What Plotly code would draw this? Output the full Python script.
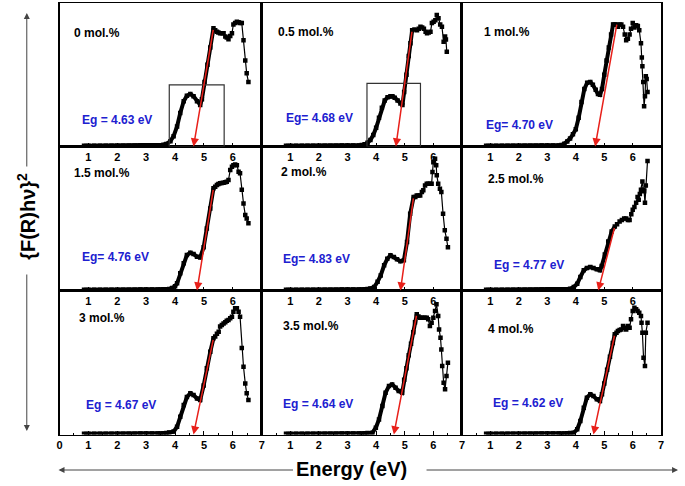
import plotly.graph_objects as go

W, H = 685, 486

# ---------------- data ----------------
PANEL_NAMES = ["0 mol.%", "0.5 mol.%", "1 mol.%",
               "1.5 mol.%", "2 mol.%", "2.5 mol.%",
               "3 mol.%", "3.5 mol.%", "4 mol.%"]
EG_LABELS = ["Eg = 4.63 eV", "Eg= 4.68 eV", "Eg= 4.70 eV",
             "Eg= 4.76 eV", "Eg= 4.83 eV", "Eg = 4.77 eV",
             "Eg = 4.67 eV", "Eg = 4.64 eV", "Eg = 4.62 eV"]

# flat low-energy part shared by all samples
E_BASE = [0.85, 1.0, 1.2, 1.4, 1.6, 1.8, 2.0, 2.2, 2.4, 2.6, 2.8, 3.0, 3.2, 3.4]
A_BASE = [0.006, 0.006, 0.006, 0.006, 0.006, 0.006, 0.006, 0.006, 0.006,
          0.006, 0.007, 0.007, 0.007, 0.007]

P1_E = [3.5, 3.6, 3.7, 3.84, 3.95, 4.07, 4.18, 4.3, 4.41, 4.53, 4.64, 4.76, 4.87,
        4.93, 5.02, 5.12, 5.22, 5.33,
        5.39, 5.45, 5.5, 5.56, 5.62, 5.68, 5.74, 5.79, 5.85, 5.91, 5.97, 6.02, 6.08,
        6.14, 6.2, 6.25, 6.31, 6.37, 6.43, 6.48, 6.54]
P1_A = [0.009, 0.012, 0.018, 0.037, 0.072, 0.14, 0.234, 0.315, 0.354, 0.366, 0.35, 0.315, 0.29,
        0.33, 0.45, 0.57, 0.69, 0.824,
        0.81, 0.80, 0.795, 0.79, 0.79, 0.79, 0.766, 0.76, 0.748, 0.77, 0.79, 0.85, 0.86,
        0.87, 0.865, 0.86, 0.86, 0.74, 0.60, 0.51, 0.45]

P2_E = [3.5, 3.6, 3.7, 3.8, 3.9, 4.0, 4.1, 4.2, 4.3, 4.4, 4.5,
        4.57, 4.65, 4.75, 4.85, 4.92,
        4.98, 5.06, 5.14, 5.2, 5.26,
        5.34, 5.43, 5.49, 5.55, 5.61, 5.67, 5.73, 5.78, 5.84, 5.9, 5.95, 6.01, 6.07,
        6.12, 6.18, 6.24, 6.3, 6.36, 6.41, 6.44, 6.47]
P2_A = [0.01, 0.015, 0.026, 0.045, 0.08, 0.13, 0.2, 0.27, 0.32, 0.343, 0.35,
        0.35, 0.34, 0.32, 0.30, 0.29,
        0.38, 0.5, 0.63, 0.72, 0.81,
        0.815, 0.81, 0.82, 0.835, 0.83, 0.82, 0.80, 0.79, 0.795, 0.80, 0.86, 0.87, 0.88,
        0.917, 0.894, 0.85, 0.835, 0.73, 0.766, 0.745, 0.66]

P3_E = [3.5, 3.6, 3.7, 3.8, 3.9, 4.0, 4.1, 4.2, 4.3, 4.4, 4.51,
        4.6, 4.7, 4.78, 4.85,
        4.92, 5.0, 5.08, 5.16, 5.24, 5.31,
        5.37, 5.43, 5.48, 5.54, 5.6, 5.66, 5.72, 5.77, 5.83, 5.89, 5.94, 6.0, 6.06,
        6.12, 6.18, 6.23, 6.29, 6.32, 6.34, 6.37, 6.4, 6.43, 6.46, 6.49, 6.52]
P3_A = [0.01, 0.02, 0.035, 0.055, 0.085, 0.12, 0.2, 0.31, 0.4, 0.445, 0.45,
        0.43, 0.395, 0.365, 0.36,
        0.4, 0.5, 0.6, 0.69, 0.78, 0.85,
        0.85, 0.85, 0.835, 0.85, 0.85, 0.835, 0.78, 0.74, 0.75, 0.78, 0.82, 0.86, 0.83,
        0.845, 0.84, 0.81, 0.72, 0.62, 0.56, 0.45, 0.28, 0.35, 0.49, 0.47, 0.38]

P4_E = [3.5, 3.6, 3.7, 3.8, 3.9, 4.0,
        4.07, 4.18, 4.3, 4.41, 4.53, 4.64, 4.76, 4.87,
        4.99, 5.1, 5.22, 5.33,
        5.39, 5.45, 5.5, 5.56, 5.62, 5.68, 5.74, 5.79, 5.85, 5.91, 5.97, 6.02, 6.08,
        6.14, 6.2, 6.25, 6.31, 6.37, 6.43, 6.48, 6.54]
P4_A = [0.007, 0.008, 0.009, 0.011, 0.018, 0.03,
        0.05, 0.12, 0.19, 0.246, 0.262, 0.253, 0.235, 0.23,
        0.3, 0.43, 0.57, 0.71,
        0.72, 0.733, 0.74, 0.744, 0.746, 0.749, 0.752, 0.756, 0.767, 0.837, 0.86, 0.87, 0.875,
        0.87, 0.825, 0.814, 0.70, 0.605, 0.524, 0.50, 0.467]

P5_E = [3.5, 3.6, 3.7, 3.8,
        3.93, 4.05, 4.16, 4.28, 4.39, 4.5, 4.62, 4.73, 4.85, 4.97,
        5.08, 5.19, 5.31,
        5.37, 5.42, 5.48, 5.54, 5.6, 5.65, 5.71, 5.77, 5.82, 5.88, 5.94, 5.97, 6.0,
        6.06, 6.1, 6.12, 6.17, 6.23, 6.28, 6.34, 6.4, 6.46, 6.51]
P5_A = [0.007, 0.008, 0.01, 0.014,
        0.024, 0.06, 0.105, 0.175, 0.22, 0.244, 0.233, 0.217, 0.203, 0.21,
        0.337, 0.533, 0.65,
        0.65, 0.66, 0.66, 0.66, 0.684, 0.696, 0.73, 0.742, 0.742, 0.742, 0.742, 0.823, 0.89,
        0.915, 0.87, 0.80, 0.742, 0.707, 0.684, 0.533, 0.418, 0.36, 0.30]

P6_E = [3.5, 3.6, 3.7, 3.8,
        3.93, 4.05, 4.16, 4.28, 4.39, 4.51, 4.62, 4.74, 4.85,
        4.91, 5.02, 5.14, 5.26, 5.37,
        5.45, 5.54, 5.62, 5.7, 5.77, 5.83, 5.89, 5.95, 6.0, 6.06, 6.12, 6.17, 6.21,
        6.25, 6.29, 6.34, 6.37, 6.4, 6.43, 6.46, 6.52]
P6_A = [0.006, 0.007, 0.009, 0.012,
        0.024, 0.047, 0.094, 0.14, 0.156, 0.163, 0.156, 0.147, 0.14,
        0.17, 0.25, 0.34, 0.41, 0.444,
        0.46, 0.48, 0.49, 0.5, 0.5, 0.49, 0.49, 0.53, 0.56, 0.58, 0.61, 0.65, 0.63,
        0.67, 0.70, 0.757, 0.70, 0.69, 0.61, 0.73, 0.90]

P7_E = [3.5, 3.6, 3.7, 3.8,
        3.95, 4.07, 4.18, 4.3, 4.41, 4.53, 4.64, 4.76, 4.87,
        4.99, 5.1, 5.22, 5.33,
        5.39, 5.45, 5.51, 5.56, 5.62, 5.68, 5.74, 5.79, 5.85, 5.91, 5.97, 6.02, 6.08,
        6.14, 6.2, 6.25, 6.31, 6.37, 6.43, 6.48, 6.54]
P7_A = [0.007, 0.008, 0.01, 0.014,
        0.02, 0.054, 0.124, 0.205, 0.26, 0.286, 0.274, 0.25, 0.24,
        0.34, 0.46, 0.575, 0.668,
        0.68, 0.70, 0.714, 0.75, 0.76, 0.77, 0.78, 0.79, 0.795, 0.807, 0.818, 0.853, 0.876,
        0.876, 0.853, 0.818, 0.6, 0.47, 0.355, 0.286, 0.24]

P8_E = [3.5, 3.6, 3.7,
        3.87, 3.99, 4.1, 4.22, 4.33, 4.45, 4.56, 4.68, 4.79, 4.91,
        4.98, 5.06, 5.14, 5.22, 5.3, 5.36, 5.42,
        5.48, 5.54, 5.6, 5.65, 5.71, 5.77, 5.82, 5.88, 5.94, 6.0, 6.06, 6.11, 6.17,
        6.2, 6.25, 6.28, 6.31, 6.36, 6.41, 6.46, 6.51]
P8_A = [0.007, 0.008, 0.01,
        0.013, 0.047, 0.105, 0.198, 0.29, 0.337, 0.348, 0.325, 0.302, 0.29,
        0.38, 0.46, 0.55, 0.63, 0.71, 0.78, 0.835,
        0.82, 0.81, 0.81, 0.81, 0.81, 0.81, 0.80, 0.753, 0.776, 0.81, 0.858, 0.904, 0.823,
        0.73, 0.672, 0.59, 0.476, 0.36, 0.314, 0.406, 0.499]

P9_E = [3.5, 3.6, 3.7, 3.8,
        3.93, 4.05, 4.16, 4.28, 4.39, 4.51, 4.62, 4.74, 4.85,
        4.92, 5.0, 5.1, 5.2, 5.3, 5.37,
        5.43, 5.48, 5.54, 5.6, 5.66, 5.71, 5.77, 5.83, 5.89, 5.94, 6.0, 6.06, 6.12,
        6.17, 6.23, 6.29, 6.31, 6.34, 6.38, 6.43, 6.46, 6.52]
P9_A = [0.006, 0.007, 0.008, 0.01,
        0.013, 0.036, 0.094, 0.186, 0.256, 0.279, 0.267, 0.244, 0.233,
        0.28, 0.355, 0.45, 0.54, 0.635, 0.696,
        0.707, 0.719, 0.725, 0.73, 0.753, 0.742, 0.73, 0.753, 0.742, 0.80, 0.858, 0.88, 0.87,
        0.858, 0.846, 0.823, 0.776, 0.707, 0.533, 0.476, 0.707, 0.776]

PANEL_E = [P1_E, P2_E, P3_E, P4_E, P5_E, P6_E, P7_E, P8_E, P9_E]
PANEL_A = [P1_A, P2_A, P3_A, P4_A, P5_A, P6_A, P7_A, P8_A, P9_A]

# linear-fit (Tauc) lines: upper end of the fit and the extrapolated intercept
FIT_TOP_E = [5.33, 5.26, 5.45, 5.33, 5.31, 5.37, 5.33, 5.42, 5.37]
FIT_TOP_A = [0.824, 0.81, 0.86, 0.71, 0.65, 0.444, 0.668, 0.835, 0.696]
FIT_TIP_E = [4.64, 4.69, 4.68, 4.76, 4.85, 4.79, 4.64, 4.62, 4.62]

# framed regions (first two samples)
BOX_PANEL = [0, 1]
BOX_E0 = [3.80, 3.68]
BOX_E1 = [5.70, 5.55]
BOX_A = [0.43, 0.44]

# ---------------- styling / layout ----------------
FONT = "Liberation Sans, Arial, sans-serif"
BLUE = "#2020d0"
RED = "#e8201a"
COL_PX = [(57, 261), (261, 463), (463, 664)]
ROW_PX = [(3, 146.5), (146.5, 290.5), (290.5, 434.5)]
# label anchors (pixel positions on the page)
NAME_POS = [(70, 33), (275, 32), (483, 32), (70, 173), (278, 172), (487, 179),
            (75, 318), (280, 326), (487, 329)]
EG_POS = [(78, 120), (283, 118), (485, 125), (78, 257), (280, 259), (493, 265),
          (82, 405), (280, 404), (492, 403)]


def sfx(i):
    return "" if i == 0 else str(i + 1)


fig = go.Figure()
annotations = []
shapes = []
for i in range(9):
    r, c = divmod(i, 3)
    n = sfx(i)
    e = E_BASE + PANEL_E[i]
    a = A_BASE + PANEL_A[i]
    assert len(e) == len(a), (i, len(e), len(a))
    k = sum(1 for v in e if v <= FIT_TOP_E[i] + 1e-9)
    fig.add_trace(go.Scatter(x=e[:k], y=a[:k], mode="lines",
                             line=dict(color="black", width=4),
                             xaxis="x" + n, yaxis="y" + n,
                             showlegend=False, hoverinfo="skip"))
    fig.add_trace(go.Scatter(x=e, y=a, mode="lines+markers",
                             line=dict(color="black", width=1.2),
                             marker=dict(symbol="square", size=4.5, color="black"),
                             xaxis="x" + n, yaxis="y" + n,
                             showlegend=False, hoverinfo="skip"))

    x0p, x1p = COL_PX[c]
    tp, bp = ROW_PX[r]
    if r == 2:
        ticktext = [str(v) if (c == 0 or v > 0) else "" for v in range(8)]
    else:
        ticktext = [str(v) if 1 <= v <= 6 else "" for v in range(8)]
    fig.layout["xaxis" + n] = dict(
        domain=[x0p / W, x1p / W], range=[0, 7], anchor="y" + n,
        tickmode="array", tickvals=list(range(8)), ticktext=ticktext,
        ticks="inside", ticklen=4, tickwidth=1, tickcolor="black",
        minor=dict(tickvals=[v + 0.5 for v in range(7)], ticks="inside",
                   ticklen=2, tickcolor="black"),
        showline=True, linecolor="black", linewidth=1.5, mirror=True,
        showgrid=False, zeroline=False, fixedrange=True,
        tickfont=dict(family=FONT, size=11, color="black", weight="bold"))
    fig.layout["yaxis" + n] = dict(
        domain=[1 - bp / H, 1 - tp / H], range=[0, 1], anchor="x" + n,
        showticklabels=False, ticks="", showline=True, linecolor="black",
        linewidth=1.5, mirror=True, showgrid=False, zeroline=False,
        fixedrange=True)

    # fit line with arrow to the intercept
    annotations.append(dict(
        xref="x" + n, yref="y" + n, axref="x" + n, ayref="y" + n,
        x=FIT_TIP_E[i], y=0.0, ax=FIT_TOP_E[i], ay=FIT_TOP_A[i],
        text="", showarrow=True, arrowhead=2, arrowsize=1.1, arrowwidth=1.5,
        arrowcolor=RED, standoff=0, startstandoff=0))
    nx, ny = NAME_POS[i]
    annotations.append(dict(
        xref="paper", yref="paper", x=nx / W, y=1 - ny / H,
        xanchor="left", yanchor="middle", showarrow=False,
        text=PANEL_NAMES[i],
        font=dict(family=FONT, size=12, color="black", weight="bold")))
    gx, gy = EG_POS[i]
    annotations.append(dict(
        xref="paper", yref="paper", x=gx / W, y=1 - gy / H,
        xanchor="left", yanchor="middle", showarrow=False,
        text=EG_LABELS[i],
        font=dict(family=FONT, size=12, color=BLUE, weight="bold")))

for j, p in enumerate(BOX_PANEL):
    n = sfx(p)
    shapes.append(dict(type="rect", xref="x" + n, yref="y" + n,
                       x0=BOX_E0[j], x1=BOX_E1[j], y0=0, y1=BOX_A[j],
                       line=dict(color="#333333", width=1.2)))

# axis titles with arrows
annotations.append(dict(
    xref="paper", yref="paper", x=352 / W, y=1 - 469 / H,
    xanchor="center", yanchor="middle", showarrow=False,
    text="Energy (eV)",
    font=dict(family=FONT, size=20, color="black", weight="bold")))
annotations.append(dict(
    xref="paper", yref="paper", x=23 / W, y=1 - 216 / H,
    xanchor="center", yanchor="middle", showarrow=False, textangle=-90,
    text="{F(R)h\u03bd}<sup>2</sup>",
    font=dict(family=FONT, size=20, color="black", weight="bold")))
ARROWS = [  # tip (px), tail offset (px)
    ((56, 470), (236, 0)),
    ((681, 470), (-253, 0)),
    ((24, 13), (0, 155)),
    ((24, 431), (0, -158)),
]
for (tx, ty), (ox, oy) in ARROWS:
    annotations.append(dict(
        xref="paper", yref="paper", x=tx / W, y=1 - ty / H, ax=ox, ay=oy,
        text="", showarrow=True, arrowhead=2, arrowsize=1.2, arrowwidth=1,
        arrowcolor="#444444", standoff=0))

fig.update_layout(
    width=W, height=H, margin=dict(l=0, r=0, t=0, b=0),
    paper_bgcolor="white", plot_bgcolor="white",
    annotations=annotations, shapes=shapes, showlegend=False)

fig.write_html("out.html",
               config={"displayModeBar": False, "staticPlot": True},
               post_script="document.body.style.margin='0';"
                           "document.body.style.overflow='hidden';")
